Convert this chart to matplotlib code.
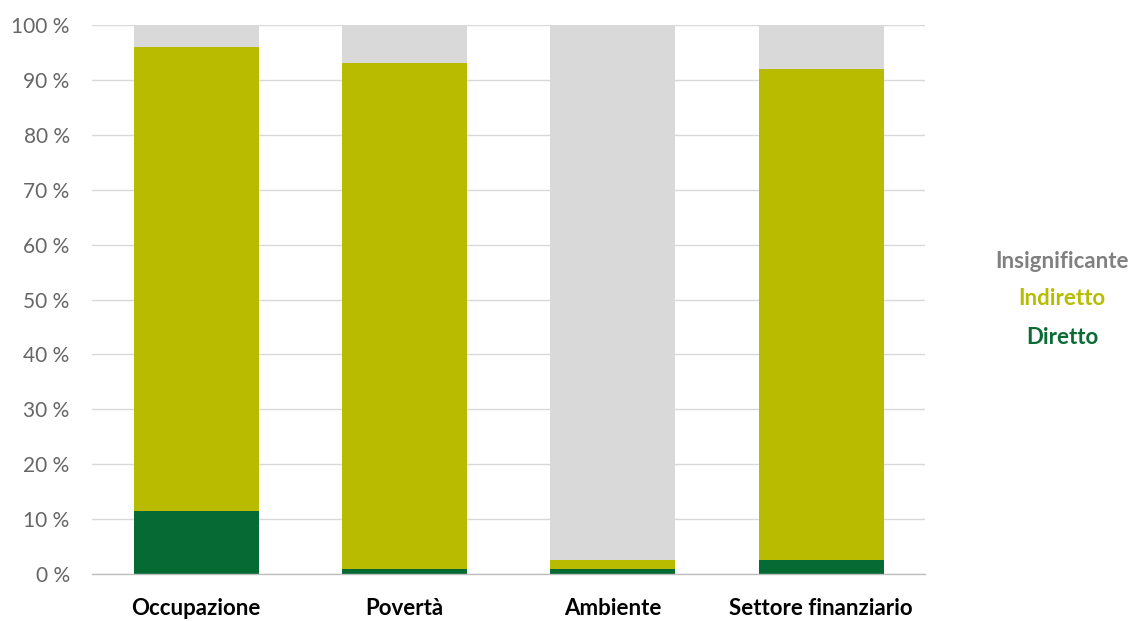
import matplotlib
matplotlib.use("Agg")
import matplotlib.pyplot as plt
import numpy as np

categories = ["Occupazione", "Povertà", "Ambiente", "Settore finanziario"]
diretto = [11.5, 1.0, 1.0, 2.5]
indiretto = [84.5, 92.0, 1.5, 89.5]
insignificante = [4.0, 7.0, 97.5, 8.0]
series_names = ["Diretto", "Indiretto", "Insignificante"]
series_colors = ["#066a34", "#b8bb00", "#d9d9d9"]
label_colors = ["#0a6b35", "#b5bd00", "#808080"]
y_ticks = [0, 10, 20, 30, 40, 50, 60, 70, 80, 90, 100]

plt.rcParams["font.family"] = ["Lato", "DejaVu Sans"]

fig = plt.figure(figsize=(11.34, 6.21), dpi=100)
ax = fig.add_axes([0.081, 0.0757, 0.735, 0.884])

x = np.arange(len(categories))
bottom = np.zeros(len(categories))
for vals, color, name in zip([diretto, indiretto, insignificante], series_colors, series_names):
    ax.bar(x, vals, width=0.6, bottom=bottom, color=color, label=name, zorder=2)
    bottom += np.array(vals)

ax.set_xlim(-0.5, len(categories) - 0.5)
ax.set_ylim(0, 100)
ax.set_yticks(y_ticks)
ax.set_yticklabels([f"{t} %" for t in y_ticks], fontsize=15, color="#666666")
ax.set_xticks(x)
ax.set_xticklabels(categories, fontsize=16, fontweight="bold", color="#000000")
ax.tick_params(axis="both", length=0)
ax.tick_params(axis="x", pad=17)
ax.tick_params(axis="y", pad=16)

ax.grid(axis="y", color="#d9d9d9", linewidth=1, zorder=0)
for side in ["top", "right", "left"]:
    ax.spines[side].set_visible(False)
ax.spines["bottom"].set_color("#bfbfbf")
ax.spines["bottom"].set_linewidth(1)

# Series labels on the right, top to bottom in stacking order
legend_y = [262, 299, 338]
for name, color, ypix in zip(series_names[::-1], label_colors[::-1], legend_y):
    fig.text(1062 / 1134, 1 - ypix / 621, name, ha="center", va="center",
             fontsize=16, fontweight="bold", color=color)

fig.savefig("out.png", dpi=100, facecolor="white")
